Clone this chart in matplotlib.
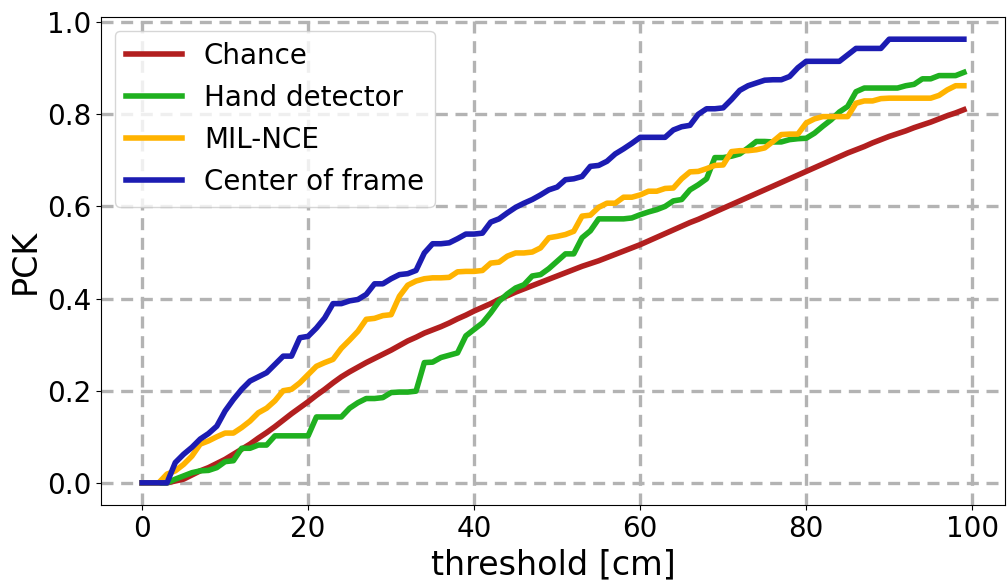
import matplotlib
matplotlib.use("Agg")
import matplotlib.pyplot as plt
import numpy as np

thresholds = list(range(100))

chance = [0, 0, 0, 0, 0.004, 0.008, 0.017, 0.026, 0.033, 0.042,
          0.051, 0.062, 0.073, 0.084, 0.097, 0.109, 0.122, 0.136, 0.150, 0.163,
          0.176, 0.190, 0.203, 0.217, 0.230, 0.241, 0.251, 0.261, 0.270, 0.279,
          0.288, 0.298, 0.308, 0.316, 0.325, 0.332, 0.339, 0.347, 0.356, 0.364,
          0.373, 0.381, 0.389, 0.398, 0.406, 0.414, 0.421, 0.428, 0.435, 0.442,
          0.449, 0.456, 0.463, 0.470, 0.476, 0.482, 0.489, 0.496, 0.503, 0.510,
          0.517, 0.525, 0.533, 0.541, 0.549, 0.557, 0.565, 0.572, 0.580, 0.588,
          0.596, 0.604, 0.612, 0.620, 0.628, 0.636, 0.644, 0.652, 0.660, 0.668,
          0.676, 0.684, 0.692, 0.700, 0.708, 0.716, 0.723, 0.730, 0.738, 0.745,
          0.752, 0.758, 0.764, 0.771, 0.777, 0.783, 0.790, 0.797, 0.803, 0.810]

hand_detector = [0, 0, 0, 0, 0.008, 0.015, 0.022, 0.026, 0.027, 0.033,
                 0.046, 0.048, 0.075, 0.075, 0.082, 0.082, 0.102, 0.102, 0.102, 0.102,
                 0.102, 0.143, 0.143, 0.143, 0.143, 0.162, 0.174, 0.183, 0.183, 0.185,
                 0.196, 0.197, 0.197, 0.199, 0.261, 0.262, 0.272, 0.277, 0.282, 0.319,
                 0.333, 0.347, 0.369, 0.394, 0.410, 0.423, 0.430, 0.449, 0.452, 0.465,
                 0.481, 0.497, 0.497, 0.532, 0.547, 0.573, 0.573, 0.573, 0.573, 0.575,
                 0.582, 0.588, 0.593, 0.600, 0.612, 0.615, 0.636, 0.647, 0.660, 0.706,
                 0.706, 0.709, 0.714, 0.727, 0.741, 0.741, 0.740, 0.740, 0.745, 0.747,
                 0.748, 0.759, 0.774, 0.788, 0.805, 0.817, 0.849, 0.857, 0.857, 0.857,
                 0.857, 0.857, 0.862, 0.865, 0.877, 0.877, 0.884, 0.884, 0.884, 0.891]

mil_nce = [0, 0, 0, 0.019, 0.026, 0.040, 0.058, 0.084, 0.091, 0.100,
           0.108, 0.108, 0.120, 0.134, 0.152, 0.162, 0.178, 0.200, 0.203, 0.217,
           0.235, 0.253, 0.261, 0.268, 0.292, 0.310, 0.329, 0.355, 0.357, 0.363,
           0.365, 0.405, 0.429, 0.438, 0.443, 0.445, 0.445, 0.446, 0.458, 0.459,
           0.459, 0.461, 0.477, 0.479, 0.492, 0.499, 0.499, 0.501, 0.510, 0.532,
           0.535, 0.539, 0.546, 0.579, 0.581, 0.598, 0.607, 0.607, 0.620, 0.620,
           0.625, 0.633, 0.633, 0.639, 0.640, 0.660, 0.675, 0.676, 0.682, 0.689,
           0.690, 0.719, 0.721, 0.721, 0.723, 0.727, 0.741, 0.756, 0.757, 0.757,
           0.781, 0.790, 0.795, 0.795, 0.795, 0.795, 0.824, 0.829, 0.829, 0.834,
           0.835, 0.835, 0.835, 0.835, 0.835, 0.835, 0.841, 0.853, 0.862, 0.862]

center_of_frame = [0, 0, 0, 0, 0.044, 0.062, 0.077, 0.095, 0.107, 0.123,
                   0.156, 0.181, 0.203, 0.221, 0.230, 0.239, 0.257, 0.275, 0.275, 0.315,
                   0.318, 0.336, 0.358, 0.389, 0.389, 0.395, 0.398, 0.409, 0.432, 0.432,
                   0.443, 0.452, 0.454, 0.461, 0.499, 0.519, 0.519, 0.521, 0.530, 0.540,
                   0.540, 0.542, 0.566, 0.573, 0.586, 0.598, 0.607, 0.615, 0.625, 0.636,
                   0.642, 0.658, 0.660, 0.665, 0.687, 0.689, 0.698, 0.714, 0.725, 0.737,
                   0.750, 0.750, 0.750, 0.750, 0.766, 0.773, 0.776, 0.800, 0.812, 0.812,
                   0.814, 0.832, 0.852, 0.862, 0.868, 0.874, 0.875, 0.875, 0.882, 0.901,
                   0.915, 0.915, 0.915, 0.915, 0.915, 0.929, 0.943, 0.943, 0.943, 0.943,
                   0.963, 0.963, 0.963, 0.963, 0.963, 0.963, 0.963, 0.963, 0.963, 0.963]

series = [
    ("Chance", chance, "#b21f1f"),
    ("Hand detector", hand_detector, "#1fb01f"),
    ("MIL-NCE", mil_nce, "#ffb300"),
    ("Center of frame", center_of_frame, "#1c1cb2"),
]

fig = plt.figure(figsize=(10.07, 5.81), dpi=100)
ax = fig.add_axes([0.1003, 0.1308, 0.8977, 0.8399])

for label, vals, color in series:
    ax.plot(thresholds, vals, color=color, lw=4, label=label)

ax.grid(True, color="#b3b3b3", lw=2.4, linestyle=(0, (3.6, 2.3)))
ax.set_axisbelow(True)
ax.tick_params(labelsize=20)
ax.set_xlabel("threshold [cm]", fontsize=24)
ax.set_ylabel("PCK", fontsize=24)
ax.set_xticks([0, 20, 40, 60, 80, 100])
ax.set_yticks([0.0, 0.2, 0.4, 0.6, 0.8, 1.0])
ax.legend(loc="upper left", fontsize=20)

fig.savefig("out.png", dpi=100)
